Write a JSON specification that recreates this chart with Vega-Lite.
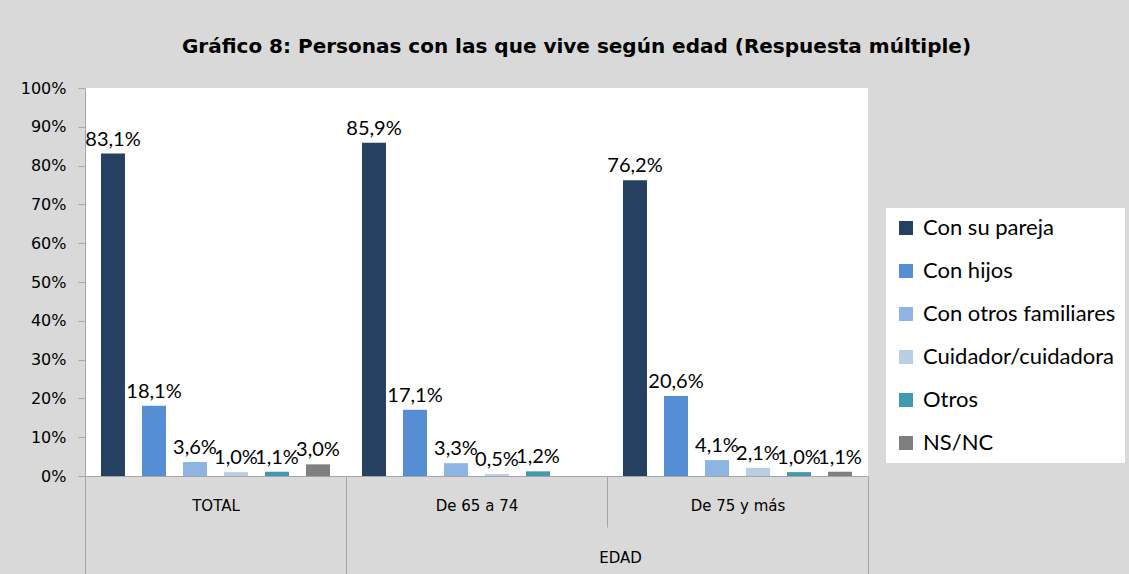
{
  "$schema": "https://vega.github.io/schema/vega-lite/v6.json",
  "width": 783,
  "height": 388,
  "autosize": {"type": "none"},
  "padding": {"left": 85, "top": 88, "right": 261, "bottom": 98},
  "background": "#d9d9d9",
  "config": {
    "locale": {"number": {"decimal": ",", "thousands": ".", "grouping": [3], "currency": ["", " €"]}},
    "view": {"fill": "white", "stroke": null}
  },
  "title": {
    "text": "Gráfico 8: Personas con las que vive según edad (Respuesta múltiple)",
    "font": "DejaVu Sans",
    "fontSize": 20,
    "fontWeight": "bold",
    "color": "#000000",
    "anchor": "middle",
    "frame": "group",
    "dx": 100,
    "offset": 23
  },
  "data": {
    "values": [
      {"edad": "TOTAL", "tipo": "Con su pareja", "v": 0.831},
      {"edad": "TOTAL", "tipo": "Con hijos", "v": 0.181},
      {"edad": "TOTAL", "tipo": "Con otros familiares", "v": 0.036},
      {"edad": "TOTAL", "tipo": "Cuidador/cuidadora", "v": 0.010},
      {"edad": "TOTAL", "tipo": "Otros", "v": 0.011},
      {"edad": "TOTAL", "tipo": "NS/NC", "v": 0.030},
      {"edad": "De 65 a 74", "tipo": "Con su pareja", "v": 0.859},
      {"edad": "De 65 a 74", "tipo": "Con hijos", "v": 0.171},
      {"edad": "De 65 a 74", "tipo": "Con otros familiares", "v": 0.033},
      {"edad": "De 65 a 74", "tipo": "Cuidador/cuidadora", "v": 0.005},
      {"edad": "De 65 a 74", "tipo": "Otros", "v": 0.012},
      {"edad": "De 75 y más", "tipo": "Con su pareja", "v": 0.762},
      {"edad": "De 75 y más", "tipo": "Con hijos", "v": 0.206},
      {"edad": "De 75 y más", "tipo": "Con otros familiares", "v": 0.041},
      {"edad": "De 75 y más", "tipo": "Cuidador/cuidadora", "v": 0.021},
      {"edad": "De 75 y más", "tipo": "Otros", "v": 0.010},
      {"edad": "De 75 y más", "tipo": "NS/NC", "v": 0.011}
    ]
  },
  "encoding": {
    "x": {
      "field": "edad",
      "type": "nominal",
      "sort": ["TOTAL", "De 65 a 74", "De 75 y más"],
      "scale": {"paddingInner": 0, "paddingOuter": 0},
      "axis": {
        "title": "EDAD",
        "titleFont": "DejaVu Sans",
        "titleFontSize": 15,
        "titleFontWeight": "normal",
        "titleColor": "#000000",
        "titleX": 535,
        "titleY": 81,
        "titleBaseline": "middle",
        "titleAlign": "center",
        "labelAngle": 0,
        "labelFont": "DejaVu Sans",
        "labelFontSize": 15,
        "labelColor": "#000000",
        "labelBaseline": "middle",
        "labelPadding": {"condition": {"test": "datum.value === 'De 65 a 74'", "value": -22}, "value": -69},
        "tickBand": "extent",
        "tickColor": "#a6a6a6",
        "tickSize": {"condition": {"test": "datum.value === 'De 65 a 74'", "value": 51}, "value": 98},
        "domainColor": "#a6a6a6"
      }
    },
    "xOffset": {
      "field": "tipo",
      "type": "nominal",
      "sort": ["Con su pareja", "Con hijos", "Con otros familiares", "Cuidador/cuidadora", "Otros", "NS/NC"],
      "scale": {"paddingInner": 0.415, "paddingOuter": 0.39}
    },
    "y": {
      "field": "v",
      "type": "quantitative",
      "scale": {"domain": [0, 1], "nice": false},
      "axis": {
        "title": null,
        "format": ".0%",
        "values": [0, 0.1, 0.2, 0.3, 0.4, 0.5, 0.6, 0.7, 0.8, 0.9, 1],
        "grid": false,
        "labelFont": "DejaVu Sans",
        "labelFontSize": 16,
        "labelColor": "#000000",
        "labelPadding": 12,
        "tickSize": 7,
        "tickColor": "#a6a6a6",
        "domainColor": "#a6a6a6"
      }
    }
  },
  "layer": [
    {
      "mark": {"type": "bar"},
      "encoding": {
        "color": {
          "field": "tipo",
          "type": "nominal",
          "scale": {
            "domain": ["Con su pareja", "Con hijos", "Con otros familiares", "Cuidador/cuidadora", "Otros", "NS/NC"],
            "range": ["#254061", "#558ed5", "#8eb4e3", "#b9cde5", "#4198af", "#7f7f7f"]
          },
          "legend": {
            "title": null,
            "orient": "none",
            "legendX": 801,
            "legendY": 120,
            "fillColor": "white",
            "padding": 9,
            "symbolType": "square",
            "symbolSize": 196,
            "symbolStrokeWidth": 0,
            "labelFont": "Lato",
            "labelFontSize": 22,
            "labelColor": "#000000",
            "labelLimit": 300,
            "labelOffset": 6,
            "rowPadding": 21
          }
        }
      }
    },
    {
      "mark": {"type": "text", "baseline": "alphabetic", "dy": -8, "font": "Lato", "fontSize": 20, "color": "#000000"},
      "encoding": {
        "text": {"field": "v", "type": "quantitative", "format": ".1%"}
      }
    }
  ]
}
